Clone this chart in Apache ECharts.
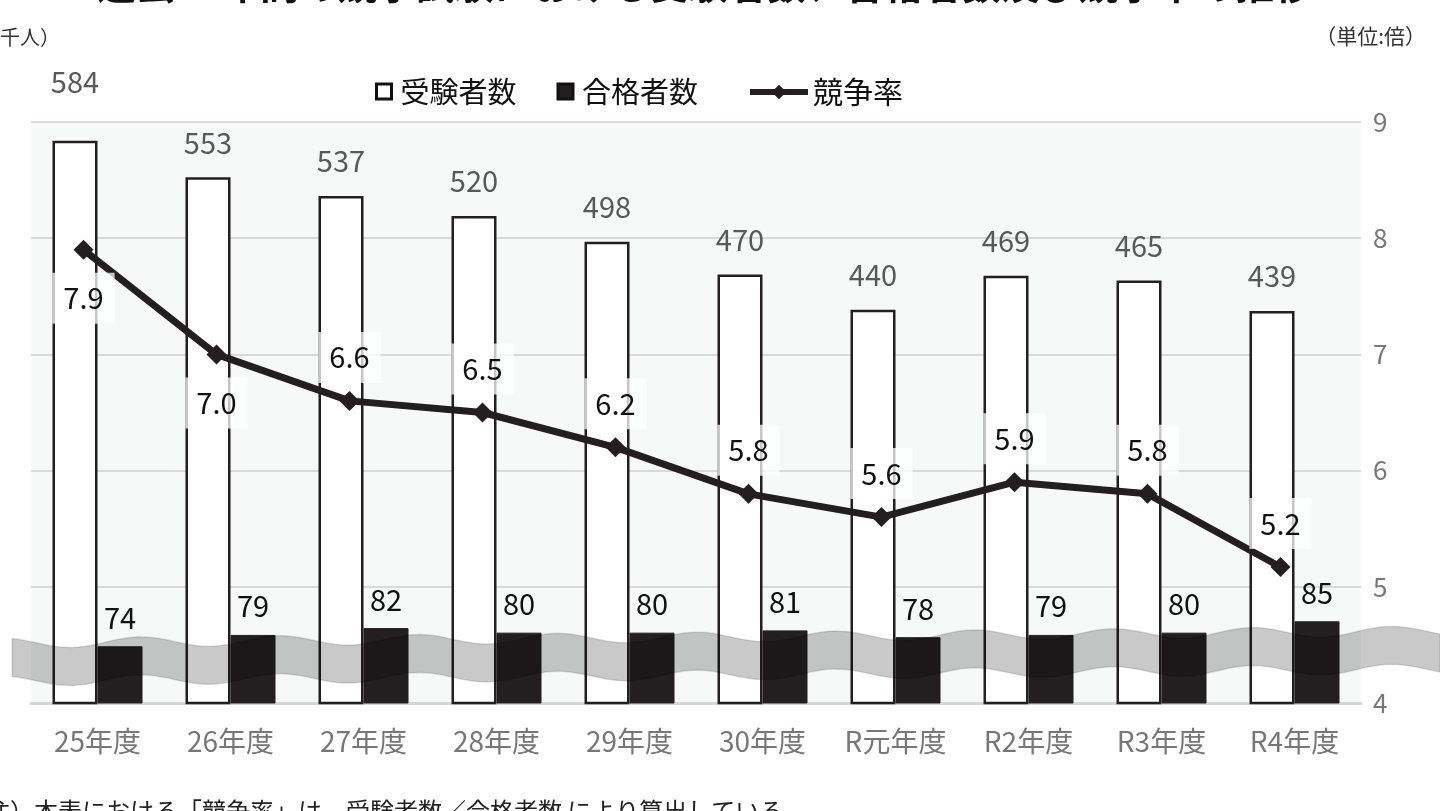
<!DOCTYPE html>
<html>
<head>
<meta charset="utf-8">
<script src="https://cdn.jsdelivr.net/npm/echarts@6/dist/echarts.min.js"></script>
<style>
  html, body { margin: 0; padding: 0; background: #fff; }
  #chart { width: 1440px; height: 811px; }
</style>
</head>
<body>
<div id="chart"></div>
<script>
const years = ['25年度', '26年度', '27年度', '28年度', '29年度', '30年度', 'R元年度', 'R2年度', 'R3年度', 'R4年度'];
const applicants = [584, 553, 537, 520, 498, 470, 440, 469, 465, 439];
const passers = [74, 79, 82, 80, 80, 81, 78, 79, 80, 85];
const rates = [7.9, 7.0, 6.6, 6.5, 6.2, 5.8, 5.6, 5.9, 5.8, 5.17];
const rateTicks = [4, 9, 1];

const FONT = "'Noto Sans CJK JP', 'Noto Sans', sans-serif";

// wavy band that marks the broken axis (decoration only)
function wavePoints() {
  const top = [], bottom = [];
  for (let x = 12; x <= 1440; x += 6) {
    const c = 662 - 12 * (x / 1440);
    const w = 5 * Math.cos(2 * Math.PI * (x - 140) / 139);
    top.push([x, c - 19 - w]);
    bottom.push([x, c + 19 - w]);
  }
  return top.concat(bottom.reverse());
}

// first two rate labels sit under the point, the rest above
const rateData = rates.map(function (v, i) {
  return {
    value: v,
    label: i < 2 ? { position: 'bottom', distance: 13 } : { position: 'top', distance: 8 }
  };
});

const applicantData = applicants.map(function (v, i) {
  return i === 0 ? { value: v, label: { distance: 44 } } : v;
});

const chart = echarts.init(document.getElementById('chart'));

chart.setOption({
  animation: false,
  textStyle: { fontFamily: FONT },
  grid: [
    { left: 31, right: 79, top: 122, bottom: 108, show: true, backgroundColor: '#f7f9f9', borderWidth: 0 },
    { left: 17, right: 93, top: 122, bottom: 108 }
  ],
  legend: [
    {
      data: [{ name: '受験者数', icon: 'rect' }, { name: '合格者数', icon: 'rect' }],
      left: 370, top: 72,
      itemWidth: 15, itemHeight: 15, itemGap: 40,
      itemStyle: { borderWidth: 3, borderColor: '#111' },
      textStyle: { fontSize: 29, color: '#111', fontFamily: FONT, padding: [0, 0, 0, 4] }
    },
    {
      data: ['競争率'],
      left: 742, top: 72,
      itemWidth: 58, itemHeight: 18,
      lineStyle: { width: 6 },
      textStyle: { fontSize: 30, color: '#111', fontFamily: FONT }
    }
  ],
  xAxis: [
    {
      type: 'category', gridIndex: 0, data: years,
      axisLine: { lineStyle: { color: '#d6d6d6', width: 3 } },
      axisTick: { show: false },
      axisLabel: { fontSize: 28, color: '#777', margin: 24, fontFamily: FONT }
    },
    { type: 'category', gridIndex: 1, data: years, show: false }
  ],
  yAxis: [
    { type: 'value', gridIndex: 0, min: 105, max: 600, show: false },
    {
      type: 'value', gridIndex: 0, position: 'right',
      min: rateTicks[0], max: rateTicks[1], interval: rateTicks[2],
      axisLine: { show: false }, axisTick: { show: false },
      axisLabel: { fontSize: 26, color: '#777', margin: 12, fontFamily: FONT },
      splitLine: { lineStyle: { color: '#d9d9d9', width: 2 } }
    },
    { type: 'value', gridIndex: 0, min: 49, max: 305, show: false },
    { type: 'value', gridIndex: 1, min: rateTicks[0], max: rateTicks[1], show: false }
  ],
  series: [
    {
      name: '受験者数', type: 'bar', xAxisIndex: 0, yAxisIndex: 0,
      data: applicantData, barWidth: 45, barGap: '0%',
      itemStyle: { color: '#ffffff', borderColor: '#231f20', borderWidth: 2.5 },
      label: { show: true, position: 'top', distance: 20, fontSize: 29, color: '#595959', fontFamily: FONT }
    },
    {
      name: '合格者数', type: 'bar', xAxisIndex: 0, yAxisIndex: 2,
      data: passers, barWidth: 45, barGap: '0%',
      itemStyle: { color: '#231f20', borderColor: '#231f20', borderWidth: 1 },
      label: { show: true, position: 'top', distance: 14, fontSize: 29, color: '#111', fontFamily: FONT }
    },
    {
      name: '競争率', type: 'line', xAxisIndex: 1, yAxisIndex: 3, z: 10,
      data: rateData,
      symbol: 'diamond', symbolSize: 20,
      lineStyle: { color: '#231f20', width: 7 },
      itemStyle: { color: '#231f20' },
      label: {
        show: true, fontSize: 29, color: '#111', fontFamily: FONT,
        backgroundColor: 'rgba(255,255,255,0.75)', padding: [11, 11],
        formatter: function (p) { return p.value.toFixed(1); }
      }
    }
  ],
  graphic: [
    {
      type: 'polygon', z: 5, silent: true,
      shape: { points: wavePoints() },
      style: { fill: 'rgba(0,0,0,0.21)', stroke: 'rgba(0,0,0,0.12)', lineWidth: 1.5 }
    },
    {
      type: 'text', left: 97, top: -35,
      style: { text: '過去10年間の競争試験における受験者数、合格者数及び競争率の推移', font: 'bold 39px ' + FONT, fill: '#111' }
    },
    {
      type: 'text', left: -20, top: 27,
      style: { text: '（千人）', font: '20px ' + FONT, fill: '#333' }
    },
    {
      type: 'text', right: 14, top: 26,
      style: { text: '（単位:倍）', font: '21px ' + FONT, fill: '#333' }
    },
    {
      type: 'text', left: -14, top: 799,
      style: { text: '注）本表における「競争率」は、受験者数／合格者数 により算出している。', font: '24px ' + FONT, fill: '#222' }
    }
  ]
});
</script>
</body>
</html>
